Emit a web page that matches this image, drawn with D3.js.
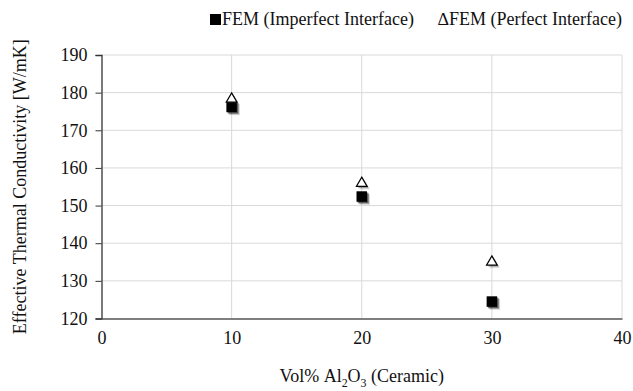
<!DOCTYPE html>
<html>
<head>
<meta charset="utf-8">
<script src="https://cdn.jsdelivr.net/npm/d3@7"></script>
</head>
<body style="margin:0;background:#fff">
<svg id="chart" width="633" height="391"></svg>
<script>
// data
const volPct = [10, 20, 30];
const imperfect = [176.2, 152.4, 124.5];
const perfect = [178.3, 155.9, 135.0];
const xTicks = [0, 10, 20, 30, 40];
const yTicks = [120, 130, 140, 150, 160, 170, 180, 190];

const width = 633, height = 391;
const margin = { left: 101.5, right: 11, top: 55, bottom: 72.5 };
const innerWidth = width - margin.left - margin.right;
const innerHeight = height - margin.top - margin.bottom;
const serif = "Liberation Serif";
const fs = 18; // smaller sizes fall back to a sans face here

const svg = d3.select("#chart");

const g = svg.append("g").attr("transform", `translate(${margin.left},${margin.top})`);

const x = d3.scaleLinear().domain([0, 40]).range([0, innerWidth]);
const y = d3.scaleLinear().domain([120, 190]).range([innerHeight, 0]);

// gridlines
g.append("g").selectAll("line").data(yTicks.filter(d => d > 120)).join("line")
    .attr("x1", 0).attr("x2", innerWidth)
    .attr("y1", d => y(d)).attr("y2", d => y(d))
    .attr("stroke", "#d9d9d9").attr("stroke-width", 1);
g.append("g").selectAll("line").data(xTicks.filter(d => d > 0)).join("line")
    .attr("x1", d => x(d)).attr("x2", d => x(d))
    .attr("y1", 0).attr("y2", innerHeight)
    .attr("stroke", "#d9d9d9").attr("stroke-width", 1);

// axes
const yAxis = g.append("g")
    .call(d3.axisLeft(y).tickValues(yTicks).tickSize(6).tickPadding(8));
yAxis.attr("font-family", serif).attr("font-size", fs);
yAxis.select(".domain").attr("stroke", "#333").attr("stroke-width", 1.3);
yAxis.selectAll(".tick line").attr("stroke", "#333");
yAxis.selectAll("text").attr("fill", "#111").attr("font-family", serif);

const xAxis = g.append("g").attr("transform", `translate(0,${innerHeight})`)
    .call(d3.axisBottom(x).tickValues(xTicks).tickSize(0).tickPadding(13));
xAxis.attr("font-family", serif).attr("font-size", fs);
xAxis.select(".domain").attr("stroke", "#555").attr("stroke-width", 1.3);
xAxis.selectAll("text").attr("fill", "#111").attr("font-family", serif);

// markers, with a soft offset shadow drawn underneath
const sq = 10.5;
const shadowOffsets = [[3, 3, 0.15], [2, 2, 0.3], [1.2, 1.2, 0.4]];
const squares = g.append("g");
shadowOffsets.forEach(([dx, dy, op]) => {
  squares.append("g").selectAll("rect").data(volPct).join("rect")
      .attr("x", (d, i) => x(d) - sq / 2 + dx)
      .attr("y", (d, i) => y(imperfect[i]) - sq / 2 + dy)
      .attr("width", sq).attr("height", sq)
      .attr("fill", "#000").attr("opacity", op);
});
squares.append("g").selectAll("rect").data(volPct).join("rect")
    .attr("x", (d, i) => x(d) - sq / 2)
    .attr("y", (d, i) => y(imperfect[i]) - sq / 2)
    .attr("width", sq).attr("height", sq)
    .attr("fill", "#000");

const tri = d3.symbol().type(d3.symbolTriangle).size(50);
const triangles = g.append("g");
shadowOffsets.forEach(([dx, dy, op]) => {
  triangles.append("g").selectAll("path").data(volPct).join("path")
      .attr("d", tri)
      .attr("transform", (d, i) => `translate(${x(d) + dx},${y(perfect[i]) + dy})`)
      .attr("fill", "#000").attr("opacity", op * 0.6);
});
triangles.append("g").selectAll("path").data(volPct).join("path")
    .attr("d", tri)
    .attr("transform", (d, i) => `translate(${x(d)},${y(perfect[i])})`)
    .attr("fill", "#fff").attr("stroke", "#000").attr("stroke-width", 1.2);

// legend
const legend = svg.append("g").attr("transform", "translate(0,25)");
legend.append("rect").attr("x", 210).attr("y", -11).attr("width", 11).attr("height", 11).attr("fill", "#000");
legend.append("text").attr("x", 222).attr("y", 0)
    .attr("font-family", serif).attr("font-size", fs).attr("fill", "#111")
    .text("FEM (Imperfect Interface)");
legend.append("text").attr("x", 438).attr("y", 0)
    .attr("font-family", serif).attr("font-size", fs).attr("fill", "#111")
    .text("\u2206FEM (Perfect Interface)");

// axis titles
svg.append("text")
    .attr("transform", `translate(26,${margin.top + innerHeight / 2}) rotate(-90)`)
    .attr("text-anchor", "middle")
    .attr("font-family", serif).attr("font-size", fs).attr("fill", "#111")
    .text("Effective Thermal Conductivity [W/mK]");

// x title built piece by piece so the subscripts stay in the serif face
const xTitle = [
  { text: "Vol%\u00A0Al" }, { text: "2", sub: true },
  { text: "O" }, { text: "3", sub: true },
  { text: "\u00A0(Ceramic)" }
];
const xt = svg.append("g");
let cur = 0;
xTitle.forEach(p => {
  const s = p.sub ? 0.66 : 1;
  const piece = xt.append("g").attr("transform", `translate(${cur},${p.sub ? 5 : 0}) scale(${s})`);
  const t = piece.append("text")
      .attr("font-family", serif).attr("font-size", fs).attr("fill", "#111")
      .text(p.text);
  cur += t.node().getComputedTextLength() * s;
});
xt.attr("transform", `translate(${margin.left + innerWidth / 2 - cur / 2},382)`);
</script>
</body>
</html>
